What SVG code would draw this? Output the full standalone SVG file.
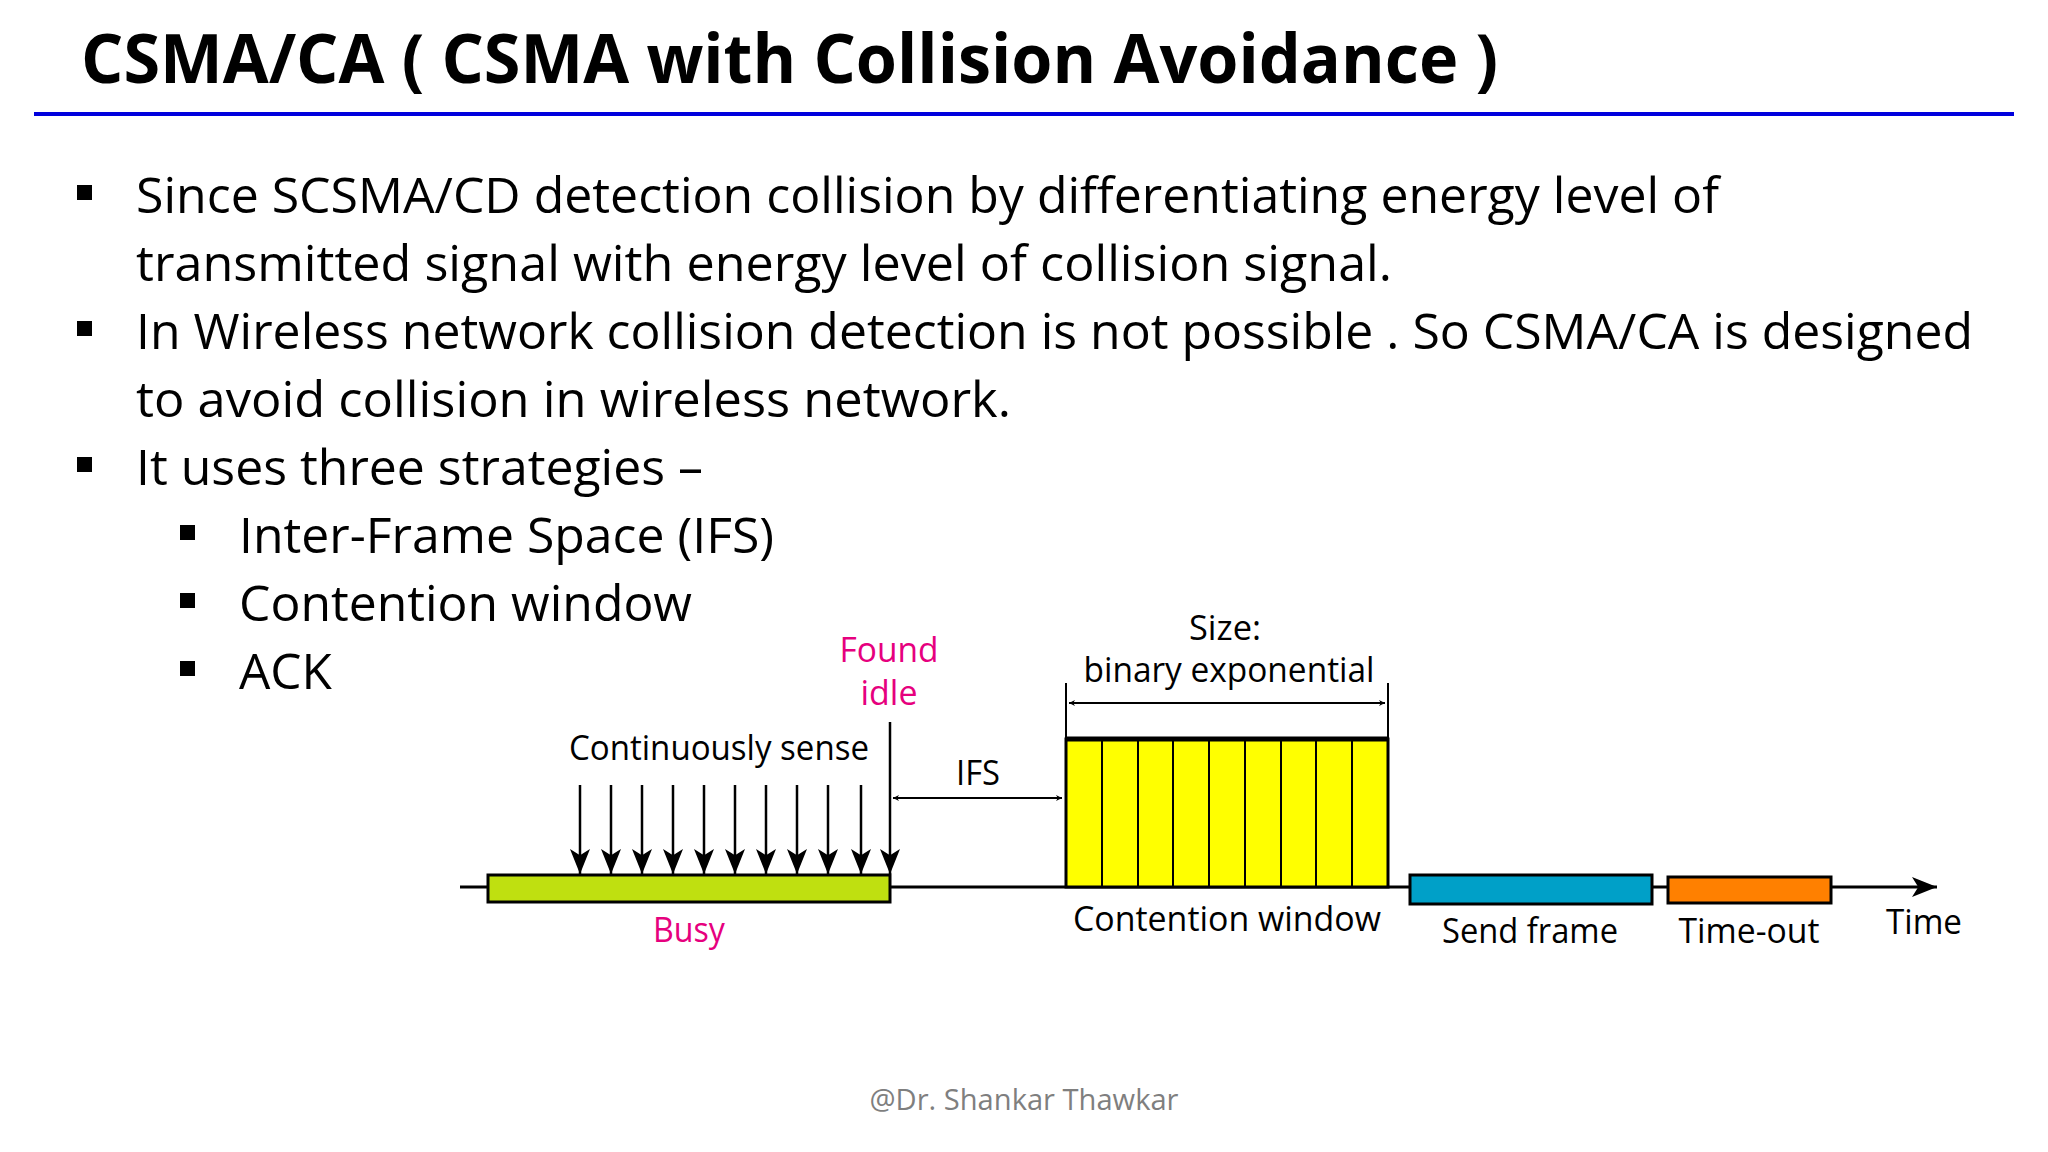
<svg xmlns="http://www.w3.org/2000/svg" width="2048" height="1152" viewBox="0 0 2048 1152" xml:space="preserve">
<defs>
<style>
.t{font-family:"Open Sans","Liberation Sans",sans-serif;fill:#000}
.b{font-size:50px}
.d{font-size:34px}
.m{fill:#e6007e}
.ln{stroke:#000;stroke-width:2.5;fill:none}
</style>
<marker id="ah" viewBox="0 0 10 10" refX="10" refY="5" markerWidth="6" markerHeight="6" markerUnits="userSpaceOnUse" orient="auto-start-reverse"><path d="M0,0 L10,5 L0,10 L3,5 z" fill="#000"/></marker>
<marker id="big" viewBox="0 0 20 16" refX="20" refY="8" markerWidth="34" markerHeight="20" markerUnits="userSpaceOnUse" orient="auto"><path d="M0,0 L20,8 L0,16 L5,8 z" fill="#000"/></marker>
</defs>
<rect width="2048" height="1152" fill="#fff"/>
<g id="title">
<text class="t" x="81" y="83" font-size="68" font-weight="bold" textLength="1417" lengthAdjust="spacingAndGlyphs">CSMA/CA  ( CSMA with Collision Avoidance )</text>
<line x1="34" y1="114" x2="2014" y2="114" stroke="#0000dd" stroke-width="4"/>
</g>
<g id="bullets">
<rect x="77" y="185" width="15" height="15"/>
<rect x="77" y="321" width="15" height="15"/>
<rect x="77" y="457" width="15" height="15"/>
<rect x="180" y="525" width="15" height="15"/>
<rect x="180" y="593" width="15" height="15"/>
<rect x="180" y="661" width="15" height="15"/>
<text class="t b" x="136" y="213" textLength="1583" lengthAdjust="spacingAndGlyphs">Since SCSMA/CD detection collision by differentiating energy level of</text>
<text class="t b" x="136" y="281" textLength="1256" lengthAdjust="spacingAndGlyphs">transmitted signal  with energy level of collision signal.</text>
<text class="t b" x="136" y="349" textLength="1837" lengthAdjust="spacingAndGlyphs">In Wireless network collision detection is not possible . So CSMA/CA is designed</text>
<text class="t b" x="136" y="417" textLength="875" lengthAdjust="spacingAndGlyphs">to avoid collision  in wireless network.</text>
<text class="t b" x="136" y="485" textLength="567" lengthAdjust="spacingAndGlyphs">It uses three strategies –</text>
<text class="t b" x="239" y="553" textLength="535" lengthAdjust="spacingAndGlyphs">Inter-Frame Space (IFS)</text>
<text class="t b" x="239" y="621" textLength="453" lengthAdjust="spacingAndGlyphs">Contention window</text>
<text class="t b" x="239" y="689" textLength="93" lengthAdjust="spacingAndGlyphs">ACK</text>
</g>
<g id="connectors">
<line x1="460" y1="887" x2="1937" y2="887" stroke="#000" stroke-width="3" marker-end="url(#big)"/>
<g class="ln">
<line x1="580" y1="785" x2="580" y2="874" marker-end="url(#big)"/>
<line x1="611" y1="785" x2="611" y2="874" marker-end="url(#big)"/>
<line x1="642" y1="785" x2="642" y2="874" marker-end="url(#big)"/>
<line x1="673" y1="785" x2="673" y2="874" marker-end="url(#big)"/>
<line x1="704" y1="785" x2="704" y2="874" marker-end="url(#big)"/>
<line x1="735" y1="785" x2="735" y2="874" marker-end="url(#big)"/>
<line x1="766" y1="785" x2="766" y2="874" marker-end="url(#big)"/>
<line x1="797" y1="785" x2="797" y2="874" marker-end="url(#big)"/>
<line x1="828" y1="785" x2="828" y2="874" marker-end="url(#big)"/>
<line x1="861" y1="785" x2="861" y2="874" marker-end="url(#big)"/>
<line x1="890" y1="722" x2="890" y2="874" marker-end="url(#big)"/>
<line x1="893" y1="798" x2="1062" y2="798" stroke-width="2" marker-start="url(#ah)" marker-end="url(#ah)"/>
<line x1="1066" y1="683" x2="1066" y2="738" stroke-width="2"/>
<line x1="1388" y1="683" x2="1388" y2="738" stroke-width="2"/>
<line x1="1069" y1="703" x2="1385" y2="703" stroke-width="2" marker-start="url(#ah)" marker-end="url(#ah)"/>
</g>
</g>
<g id="busy">
<rect x="488" y="875" width="402" height="27" fill="#bfe010" stroke="#000" stroke-width="3"/>
<text class="t d m" x="689" y="942" text-anchor="middle" textLength="72" lengthAdjust="spacingAndGlyphs">Busy</text>
</g>
<g id="contention">
<rect x="1066" y="739" width="322" height="148" fill="#ffff00" stroke="#000" stroke-width="3"/>
<line x1="1066" y1="739" x2="1388" y2="739" stroke="#000" stroke-width="5"/>
<g stroke="#000" stroke-width="2">
<line x1="1102" y1="739" x2="1102" y2="887"/><line x1="1138" y1="739" x2="1138" y2="887"/><line x1="1173" y1="739" x2="1173" y2="887"/><line x1="1209" y1="739" x2="1209" y2="887"/><line x1="1245" y1="739" x2="1245" y2="887"/><line x1="1281" y1="739" x2="1281" y2="887"/><line x1="1316" y1="739" x2="1316" y2="887"/><line x1="1352" y1="739" x2="1352" y2="887"/>
</g>
<text class="t d" x="1227" y="931" text-anchor="middle" textLength="308" lengthAdjust="spacingAndGlyphs">Contention window</text>
</g>
<g id="sendframe">
<rect x="1410" y="875" width="242" height="29" fill="#00a0c8" stroke="#000" stroke-width="3"/>
<text class="t d" x="1530" y="943" text-anchor="middle" textLength="176" lengthAdjust="spacingAndGlyphs">Send frame</text>
</g>
<g id="timeout">
<rect x="1668" y="877" width="163" height="26" fill="#ff8000" stroke="#000" stroke-width="3"/>
<text class="t d" x="1749" y="943" text-anchor="middle" textLength="141" lengthAdjust="spacingAndGlyphs">Time-out</text>
</g>
<g id="labels">
<text class="t d" x="1924" y="934" text-anchor="middle" textLength="76" lengthAdjust="spacingAndGlyphs">Time</text>
<text class="t d m" x="889" y="662" text-anchor="middle" textLength="99" lengthAdjust="spacingAndGlyphs">Found</text>
<text class="t d m" x="889" y="705" text-anchor="middle" textLength="57" lengthAdjust="spacingAndGlyphs">idle</text>
<text class="t d" x="719" y="760" text-anchor="middle" textLength="300" lengthAdjust="spacingAndGlyphs">Continuously sense</text>
<text class="t d" x="978" y="785" text-anchor="middle" textLength="44" lengthAdjust="spacingAndGlyphs">IFS</text>
<text class="t d" x="1225" y="640" text-anchor="middle" textLength="72" lengthAdjust="spacingAndGlyphs">Size:</text>
<text class="t d" x="1229" y="682" text-anchor="middle" textLength="291" lengthAdjust="spacingAndGlyphs">binary exponential</text>
</g>
<g id="footer">
<text class="t" x="1024" y="1110" font-size="29" style="fill:#7f7f7f" text-anchor="middle" textLength="309" lengthAdjust="spacingAndGlyphs">@Dr. Shankar Thawkar</text>
</g>
</svg>
